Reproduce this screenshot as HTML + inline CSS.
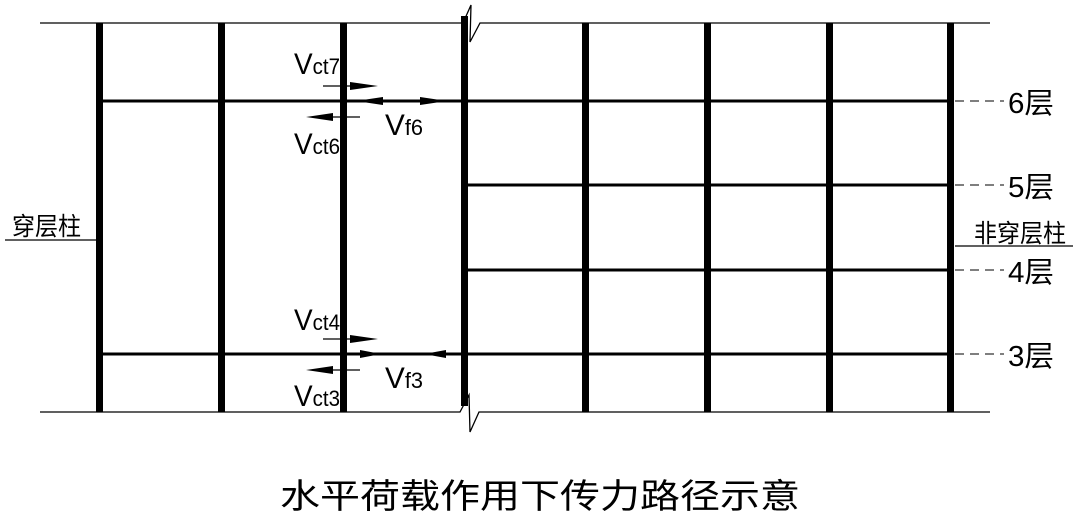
<!DOCTYPE html>
<html><head><meta charset="utf-8"><style>html,body{margin:0;padding:0;background:#fff}svg{display:block}</style></head>
<body>
<svg width="1080" height="514" viewBox="0 0 1080 514" xmlns="http://www.w3.org/2000/svg" font-family="'Liberation Sans','Noto Sans CJK SC',sans-serif">
<g stroke="#000" fill="none" stroke-width="1.3">
<polyline points="40,23 463,23 471,5 470,42 480,23 990,23"/>
<polyline points="40,412 460,412 469,395 470,432 479,412 990,412"/>
<line x1="5" y1="240" x2="96" y2="240"/>
<line x1="955" y1="246" x2="1073" y2="246"/>
<g stroke-dasharray="9,6" stroke="#333">
<line x1="955" y1="101" x2="1004" y2="101"/>
<line x1="955" y1="185" x2="1004" y2="185"/>
<line x1="955" y1="270" x2="1004" y2="270"/>
<line x1="955" y1="354" x2="1004" y2="354"/>
</g>
</g>
<g stroke="#000" stroke-width="3">
<line x1="98" y1="101" x2="953" y2="101"/>
<line x1="464" y1="185" x2="953" y2="185"/>
<line x1="464" y1="270" x2="953" y2="270"/>
<line x1="98" y1="354" x2="953" y2="354"/>
</g>
<g fill="#000">
<rect x="96" y="23" width="7" height="389"/>
<rect x="218" y="23" width="7" height="389"/>
<rect x="340" y="23" width="7" height="389"/>
<rect x="461" y="16" width="7" height="390"/>
<rect x="582" y="23" width="7" height="389"/>
<rect x="704" y="23" width="7" height="389"/>
<rect x="826" y="23" width="7" height="389"/>
<rect x="947" y="23" width="7" height="389"/>
</g>
<g stroke="#000" stroke-width="1.3">
<line x1="323" y1="86" x2="360" y2="86"/>
<line x1="320" y1="117" x2="360" y2="117"/>
<line x1="323" y1="339" x2="360" y2="339"/>
<line x1="320" y1="370" x2="360" y2="370"/>
</g>
<g fill="#000">
<polygon points="350,82 378,86 350,90"/>
<polygon points="333,113 306,117 333,121"/>
<polygon points="383,97 356,101 383,105"/>
<polygon points="420,97 447,101 420,105"/>
<polygon points="350,335 378,339 350,343"/>
<polygon points="333,366 306,370 333,374"/>
<polygon points="360,350 381,354 360,358"/>
<polygon points="446,350 424,354 446,358"/>
</g>
<g fill="#000" font-weight="normal">
<text x="294" y="74" font-size="30" textLength="46" lengthAdjust="spacingAndGlyphs">V<tspan font-size="22">ct7</tspan></text>
<text x="294" y="154" font-size="30" textLength="46" lengthAdjust="spacingAndGlyphs">V<tspan font-size="22">ct6</tspan></text>
<text x="385" y="135" font-size="30" textLength="38" lengthAdjust="spacingAndGlyphs">V<tspan font-size="22">f6</tspan></text>
<text x="294" y="330" font-size="30" textLength="46" lengthAdjust="spacingAndGlyphs">V<tspan font-size="22">ct4</tspan></text>
<text x="294" y="406" font-size="30" textLength="46" lengthAdjust="spacingAndGlyphs">V<tspan font-size="22">ct3</tspan></text>
<text x="385" y="388" font-size="30" textLength="38" lengthAdjust="spacingAndGlyphs">V<tspan font-size="22">f3</tspan></text>
<text x="1008" y="113" font-size="29" textLength="46" lengthAdjust="spacingAndGlyphs">6层</text>
<text x="1008" y="197" font-size="29" textLength="46" lengthAdjust="spacingAndGlyphs">5层</text>
<text x="1008" y="282" font-size="29" textLength="46" lengthAdjust="spacingAndGlyphs">4层</text>
<text x="1008" y="366" font-size="29" textLength="46" lengthAdjust="spacingAndGlyphs">3层</text>
<text x="974" y="242" font-size="25" textLength="92" lengthAdjust="spacingAndGlyphs">非穿层柱</text>
<text x="12" y="235" font-size="25" textLength="69" lengthAdjust="spacingAndGlyphs">穿层柱</text>
<text x="280" y="508" font-size="34" textLength="520" lengthAdjust="spacingAndGlyphs">水平荷载作用下传力路径示意</text>
</g>
</svg>
</body></html>
